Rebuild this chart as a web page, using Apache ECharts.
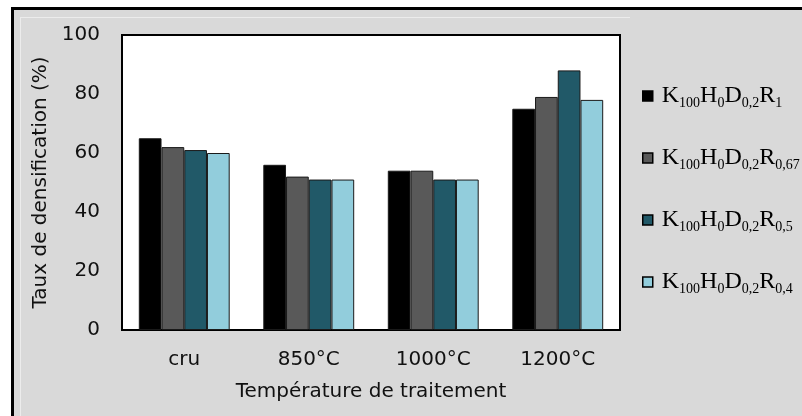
<!DOCTYPE html>
<html>
<head>
<meta charset="utf-8">
<script src="https://cdn.jsdelivr.net/npm/echarts@6/dist/echarts.min.js"></script>
<style>
html,body{margin:0;padding:0;background:#fff;}
#c{width:802px;height:416px;}
</style>
</head>
<body>
<div id="c"></div>
<script>
const categories = ['cru', '850°C', '1000°C', '1200°C'];
const seriesNames = ['R1', 'R067', 'R05', 'R04'];
const subR = ['1', '0,67', '0,5', '0,4'];
const valuesR1 = [65, 56, 54, 75];
const valuesR067 = [62, 52, 54, 79];
const valuesR05 = [61, 51, 51, 88];
const valuesR04 = [60, 51, 51, 78];
const yTicks = [0, 20, 40, 60, 80, 100];

const colors = ['#000000', '#595959', '#215968', '#92cddc'];
const allValues = [valuesR1, valuesR067, valuesR05, valuesR04];

const chart = echarts.init(document.getElementById('c'), null, {renderer: 'canvas'});
const FONT = 'DejaVu Sans';

const legendFmt = function(name) {
  const i = seriesNames.indexOf(name);
  return '{m|K}{s|100}{m|H}{s|0}{m|D}{s|0,2}{m|R}{s|' + subR[i] + '}';
};

chart.setOption({
  backgroundColor: '#ffffff',
  animation: false,
  graphic: [
    {type: 'rect', z: -10, shape: {x: 12.5, y: 8.5, width: 800, height: 420},
     style: {fill: '#d9d9d9', stroke: '#000', lineWidth: 3}},
    {type: 'line', z: -9, shape: {x1: 20.5, y1: 17, x2: 20.5, y2: 416}, style: {stroke: '#ececec', lineWidth: 1}},
    {type: 'line', z: -9, shape: {x1: 20, y1: 17.5, x2: 630, y2: 17.5}, style: {stroke: '#ececec', lineWidth: 1}}
  ],
  grid: {
    left: 122, right: 182, top: 35, bottom: 86,
    show: true, backgroundColor: '#ffffff', borderColor: '#000', borderWidth: 2
  },
  legend: {
    orient: 'vertical',
    left: 637, top: 77,
    itemWidth: 10, itemHeight: 10,
    itemGap: 34,
    icon: 'rect',
    itemStyle: {borderColor: '#000', borderWidth: 1.5},
    formatter: legendFmt,
    textStyle: {
      fontFamily: 'Liberation Serif', color: '#000', padding: [0, 0, 0, 4],
      rich: {
        m: {fontFamily: 'Liberation Serif', fontSize: 24, color: '#000', lineHeight: 28},
        s: {fontFamily: 'Liberation Serif', fontSize: 14, color: '#000', lineHeight: 28, padding: [14, 0, 0, 0]}
      }
    },
    data: seriesNames
  },
  xAxis: {
    type: 'category',
    data: categories,
    name: 'Température de traitement',
    nameLocation: 'middle',
    nameGap: 52,
    nameTextStyle: {fontFamily: FONT, fontSize: 20, color: '#111'},
    axisLine: {show: false},
    axisTick: {show: false},
    axisLabel: {fontFamily: FONT, fontSize: 20, color: '#111', margin: 20}
  },
  yAxis: {
    type: 'value',
    min: 0, max: 100, interval: 20,
    name: 'Taux de densification (%)',
    nameLocation: 'middle',
    nameGap: 64,
    nameTextStyle: {fontFamily: FONT, fontSize: 20, color: '#111'},
    axisLine: {show: false},
    axisTick: {show: false},
    splitLine: {show: false},
    axisLabel: {fontFamily: FONT, fontSize: 20, color: '#111', margin: 22,
      formatter: function(v) { return yTicks.indexOf(v) >= 0 ? String(v) : ''; }}
  },
  series: seriesNames.map(function(n, i) {
    return {
      name: n, type: 'bar',
      data: allValues[i],
      barGap: '0%',
      barCategoryGap: '27%',
      itemStyle: {color: colors[i], borderColor: '#1a1a1a', borderWidth: 1}
    };
  })
});
</script>
</body>
</html>
